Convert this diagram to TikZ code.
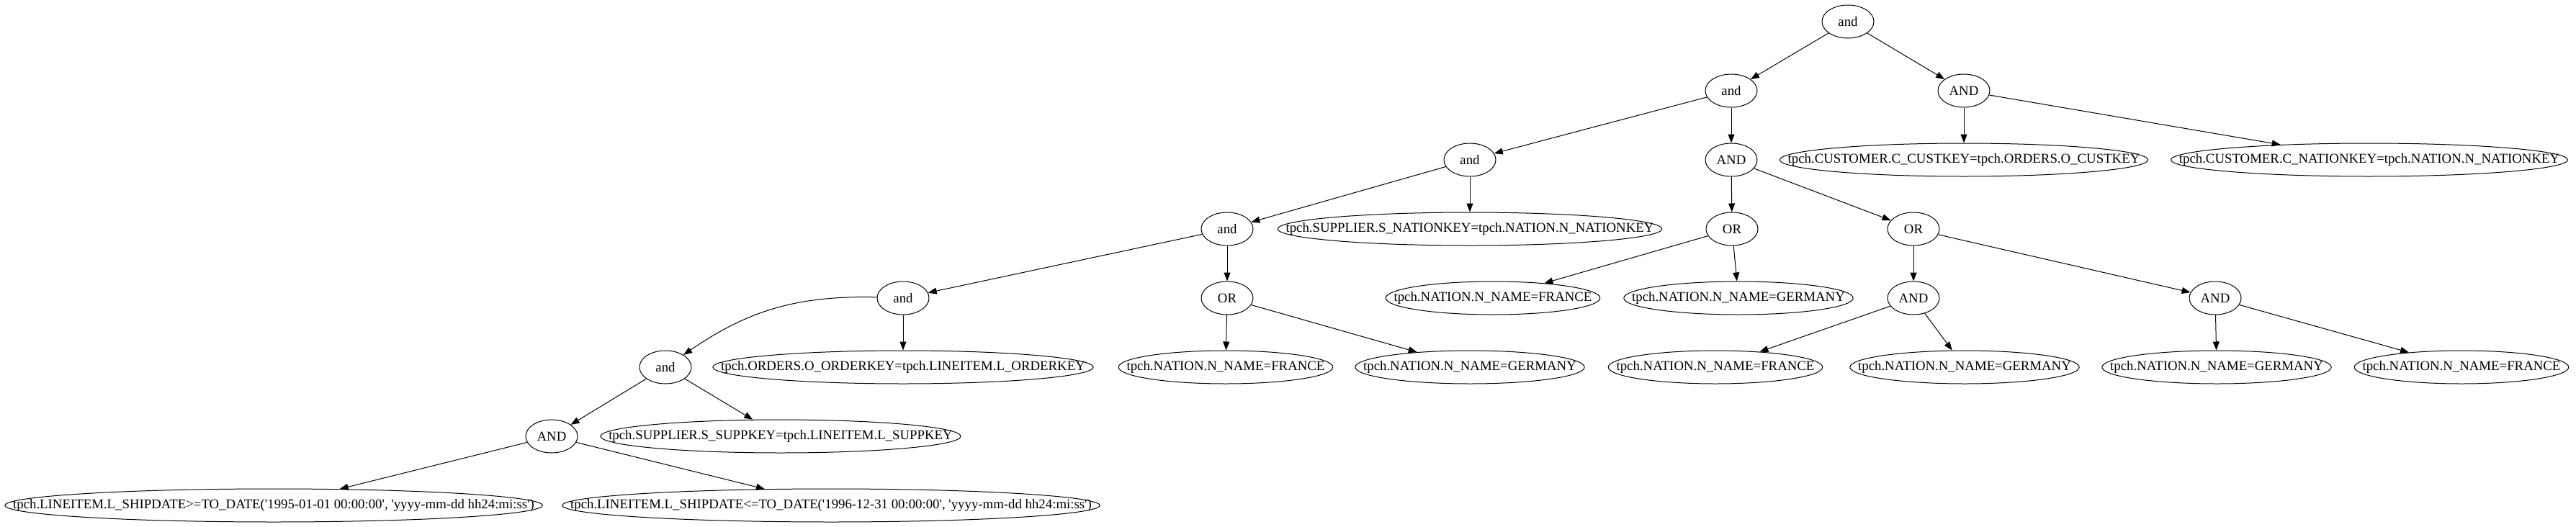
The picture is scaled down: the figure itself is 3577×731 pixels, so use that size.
\documentclass[tikz,border=0pt]{standalone}
\usepackage{fontspec}
\newfontfamily\gvfont{Liberation Serif}
\usetikzlibrary{arrows.meta,shapes.geometric}
\tikzset{
  op/.style={draw, ellipse, line width=1pt, minimum width=72pt, minimum height=46pt,
    inner sep=0pt, font=\gvfont\fontsize{18.8}{22}\selectfont},
  pred/.style={op, inner xsep={8pt-0.1464*\wd\pgfnodeparttextbox}},
  edge/.style={line width=1pt, -{Triangle[length=12pt,width=9pt]}}
}
\begin{document}
\begin{tikzpicture}[x=1pt, y=-1pt]
\useasboundingbox (0,0) rectangle (3577,731);
% operators
\node[op] (root) at (2566,30) {and};
\node[op] (a1) at (2404,126) {and};
\node[op] (A1) at (2727,126) {AND};
\node[op] (a2) at (2041,222) {and};
\node[op] (A2) at (2404,222) {AND};
\node[op] (a3) at (1704,318) {and};
\node[op] (or1) at (2405,318) {OR};
\node[op] (or2) at (2657,318) {OR};
\node[op] (a4) at (1254,414) {and};
\node[op] (or3) at (1704,414) {OR};
\node[op] (A3) at (2657,414) {AND};
\node[op] (A4) at (3076,414) {AND};
\node[op] (a5) at (924,510) {and};
\node[op] (A5) at (766,606) {AND};

% predicates
\node[pred] (ckey) at (2727,222) {tpch.CUSTOMER.C\_CUSTKEY=tpch.ORDERS.O\_CUSTKEY};
\node[pred] (nkey) at (3290,222) {tpch.CUSTOMER.C\_NATIONKEY=tpch.NATION.N\_NATIONKEY};
\node[pred] (snkey) at (2041,318) {tpch.SUPPLIER.S\_NATIONKEY=tpch.NATION.N\_NATIONKEY};
\node[pred] (fr1) at (2073,414) {tpch.NATION.N\_NAME=FRANCE};
\node[pred] (ge1) at (2414,414) {tpch.NATION.N\_NAME=GERMANY};
\node[pred] (okey) at (1254,510) {tpch.ORDERS.O\_ORDERKEY=tpch.LINEITEM.L\_ORDERKEY};
\node[pred] (fr2) at (1702,510) {tpch.NATION.N\_NAME=FRANCE};
\node[pred] (ge2) at (2041,510) {tpch.NATION.N\_NAME=GERMANY};
\node[pred] (fr3) at (2382,510) {tpch.NATION.N\_NAME=FRANCE};
\node[pred] (ge3) at (2728,510) {tpch.NATION.N\_NAME=GERMANY};
\node[pred] (ge4) at (3078,510) {tpch.NATION.N\_NAME=GERMANY};
\node[pred] (fr4) at (3418,510) {tpch.NATION.N\_NAME=FRANCE};
\node[pred] (skey) at (1084,606) {tpch.SUPPLIER.S\_SUPPKEY=tpch.LINEITEM.L\_SUPPKEY};
\node[pred] (ship1) at (380,702) {tpch.LINEITEM.L\_SHIPDATE>=TO\_DATE('1995-01-01 00:00:00', 'yyyy-mm-dd hh24:mi:ss')};
\node[pred] (ship2) at (1154,702) {tpch.LINEITEM.L\_SHIPDATE<=TO\_DATE('1996-12-31 00:00:00', 'yyyy-mm-dd hh24:mi:ss')};

% edges
\foreach \a/\b in {root/a1, root/A1, a1/a2, a1/A2, A1/ckey, A1/nkey,
  a2/a3, a2/snkey, A2/or1, A2/or2, a3/a4, a3/or3, or1/fr1, or1/ge1,
  or2/A3, or2/A4, a4/okey, or3/fr2, or3/ge2, A3/fr3, A3/ge3,
  A4/ge4, A4/fr4, a5/A5, a5/skey, A5/ship1, A5/ship2}
  \draw[edge] (\a) -- (\b);
\draw[edge] (a4) to[bend right=18] (a5);
\end{tikzpicture}
\end{document}
